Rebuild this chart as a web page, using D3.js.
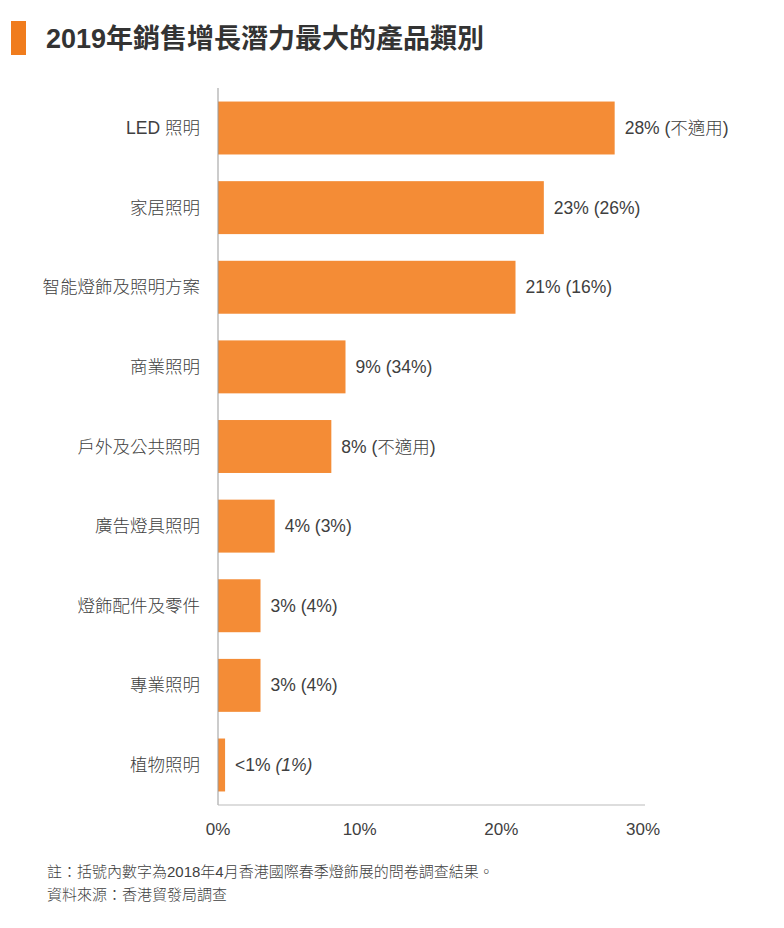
<!DOCTYPE html>
<html>
<head>
<meta charset="utf-8">
<script src="https://cdn.jsdelivr.net/npm/d3@7"></script>
<style>
    body { margin: 0; background: #fff; }
    svg text { font-family: "Liberation Sans", Arial, "Noto Sans CJK TC", sans-serif; fill: #404040; }
</style>
</head>
<body>
<div id="chart"></div>
<script>
// chart data
var categories = ["LED 照明", "家居照明", "智能燈飾及照明方案", "商業照明", "戶外及公共照明",
    "廣告燈具照明", "燈飾配件及零件", "專業照明", "植物照明"];
var values2019 = [28, 23, 21, 9, 8, 4, 3, 3, 0.5];
var valueLabels = ["28%", "23%", "21%", "9%", "8%", "4%", "3%", "3%", "<1%"];
var prevLabels = ["(不適用)", "(26%)", "(16%)", "(34%)", "(不適用)", "(3%)", "(4%)", "(4%)", "(1%)"];
var xTicks = [0, 10, 20, 30];
var titleText = "2019年銷售增長潛力最大的產品類別";
var notes = ["註：括號內數字為2018年4月香港國際春季燈飾展的問卷調查結果。", "資料來源：香港貿發局調查"];

function init() {
    var w = 784;
    var h = 928;
    var left = 218;
    var top = 88;
    var bottom = 805;
    var barColor = "#f48c36";

    var svg = d3.select("#chart")
        .append("svg")
        .attr("width", w)
        .attr("height", h);

    // title with orange marker
    svg.append("rect")
        .attr("x", 11)
        .attr("y", 21)
        .attr("width", 15)
        .attr("height", 34)
        .attr("fill", "#f07c1d");

    svg.append("text")
        .attr("x", 46)
        .attr("y", 48)
        .style("font-size", "27px")
        .style("font-weight", "bold")
        .style("fill", "#333")
        .text(titleText);

    // scales
    var xScale = d3.scaleLinear()
        .domain([0, 30])
        .range([left, 643]);

    var yScale = d3.scaleBand()
        .domain(categories)
        .range([top, bottom])
        .paddingInner(0.335)
        .paddingOuter(0.17);

    // bars
    svg.selectAll(".bar")
        .data(values2019)
        .enter()
        .append("rect")
        .attr("class", "bar")
        .attr("x", xScale(0))
        .attr("y", function (d, i) { return yScale(categories[i]); })
        .attr("width", function (d) { return xScale(d) - xScale(0); })
        .attr("height", yScale.bandwidth())
        .attr("fill", barColor);

    // category labels
    svg.selectAll(".cat")
        .data(categories)
        .enter()
        .append("text")
        .attr("class", "cat")
        .attr("x", left - 18)
        .attr("y", function (d) { return yScale(d) + yScale.bandwidth() / 2; })
        .attr("dy", "0.35em")
        .attr("text-anchor", "end")
        .style("font-size", "17.5px")
        .style("font-weight", 300)
        .text(function (d) { return d; });

    // value labels
    var vl = svg.selectAll(".val")
        .data(values2019)
        .enter()
        .append("text")
        .attr("class", "val")
        .attr("x", function (d) { return xScale(d) + 10; })
        .attr("y", function (d, i) { return yScale(categories[i]) + yScale.bandwidth() / 2; })
        .attr("dy", "0.35em")
        .style("font-size", "17.5px")
        .style("font-weight", 300);

    vl.append("tspan")
        .text(function (d, i) { return valueLabels[i] + " "; });

    vl.append("tspan")
        .style("font-style", function (d, i) { return i === categories.length - 1 ? "italic" : "normal"; })
        .text(function (d, i) { return prevLabels[i]; });

    // axes lines
    svg.append("line")
        .attr("x1", left)
        .attr("x2", left)
        .attr("y1", top)
        .attr("y2", bottom)
        .attr("stroke", "#999")
        .attr("stroke-width", 1);

    svg.append("line")
        .attr("x1", left)
        .attr("x2", 645)
        .attr("y1", bottom)
        .attr("y2", bottom)
        .attr("stroke", "#bbb")
        .attr("stroke-width", 1);

    // x tick labels
    svg.selectAll(".tick")
        .data(xTicks)
        .enter()
        .append("text")
        .attr("class", "tick")
        .attr("x", function (d) { return xScale(d); })
        .attr("y", 835)
        .attr("text-anchor", "middle")
        .style("font-size", "17px")
        .text(function (d) { return d + "%"; });

    // footnotes
    svg.selectAll(".note")
        .data(notes)
        .enter()
        .append("text")
        .attr("class", "note")
        .attr("x", 47)
        .attr("y", function (d, i) { return 877 + i * 23; })
        .style("font-size", "15px")
        .style("font-weight", 300)
        .text(function (d) { return d; });
}

window.onload = init;
</script>
</body>
</html>
